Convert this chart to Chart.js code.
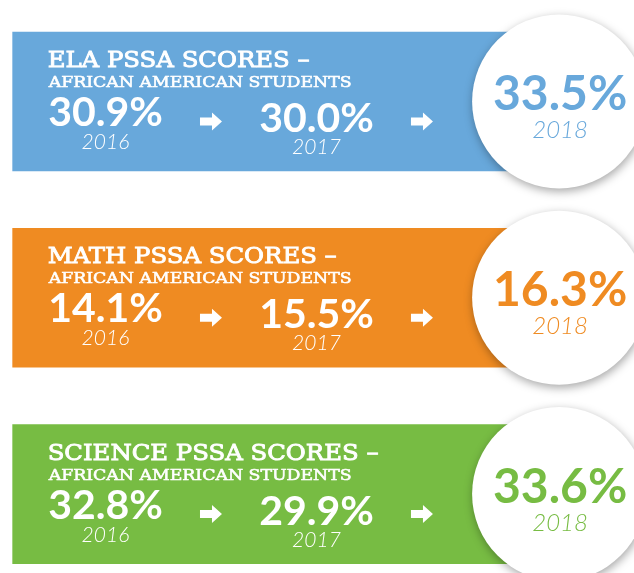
<!DOCTYPE html>
<html>
<head>
<meta charset="utf-8">
<script src="https://cdn.jsdelivr.net/npm/chart.js@4.4.0/dist/chart.umd.min.js"></script>
<style>
html, body { margin: 0; padding: 0; background: #fff; }
</style>
</head>
<body>
<canvas id="pssaChart" width="634" height="573"></canvas>
<script>
const subjects = ['ELA', 'MATH', 'SCIENCE'];
const years = ['2016', '2017', '2018'];
const elaScores = [30.9, 30.0, 33.5];
const mathScores = [14.1, 15.5, 16.3];
const scienceScores = [32.8, 29.9, 33.6];
const group = 'AFRICAN AMERICAN STUDENTS';

const scores = [elaScores, mathScores, scienceScores];
const bandColors = ['#68A8DB', '#EF8B22', '#77BC43'];

// layout, in scale units (x = year step, y = subject row)
const BAND_START = -0.44;
const CIRCLE_X = 2.15;

const TITLE_FONT = '23px "DejaVu Serif"';
const SUB_FONT = '15.5px "DejaVu Serif"';
const NUM_FONT = 'bold 41px Lato';
const YEAR_FONT = 'italic 300 21px Lato';
const BIG_NUM_FONT = 'bold 48px Lato';
const BIG_YEAR_FONT = 'italic 300 24px Lato';

const titleText = s => s + ' PSSA SCORES –';

// horizontal stretch so the slab titles keep the width of the original lettering
function stretchFor(ctx, font, text, targetW) {
  ctx.font = font;
  return targetW / ctx.measureText(text).width;
}

function stretchText(ctx, text, x, y, font, k, weight) {
  ctx.font = font;
  ctx.save();
  ctx.translate(x, y);
  ctx.scale(k, 1);
  ctx.fillText(text, 0, 0);
  ctx.strokeStyle = ctx.fillStyle;
  ctx.lineWidth = weight;
  ctx.strokeText(text, 0, 0);
  ctx.restore();
}

function drawArrow(ctx, cx, cy) {
  ctx.beginPath();
  ctx.moveTo(cx - 11, cy - 4);
  ctx.lineTo(cx + 1, cy - 4);
  ctx.lineTo(cx + 1, cy - 9);
  ctx.lineTo(cx + 11, cy);
  ctx.lineTo(cx + 1, cy + 9);
  ctx.lineTo(cx + 1, cy + 4);
  ctx.lineTo(cx - 11, cy + 4);
  ctx.closePath();
  ctx.fill();
}

const circleShadow = {
  id: 'circleShadow',
  beforeDatasetDraw(chart, args) {
    if (args.index !== 1) return;
    const ctx = chart.ctx;
    ctx.save();
    ctx.shadowColor = 'rgba(0, 0, 0, 0.35)';
    ctx.shadowBlur = 10;
    ctx.shadowOffsetX = 1;
    ctx.shadowOffsetY = 3;
  },
  afterDatasetDraw(chart, args) {
    if (args.index === 1) chart.ctx.restore();
  }
};

const scoreLabels = {
  id: 'scoreLabels',
  afterDatasetsDraw(chart) {
    const { ctx, scales: { x, y } } = chart;
    const left = x.getPixelForValue(BAND_START) + 35;
    const kTitle = stretchFor(ctx, TITLE_FONT, titleText(subjects[0]), 262);
    const kSub = stretchFor(ctx, SUB_FONT, group, 303);
    subjects.forEach((subject, i) => {
      const cy = y.getPixelForValue(i);
      const vals = scores[i];
      ctx.save();
      ctx.fillStyle = '#fff';
      ctx.textAlign = 'left';
      ctx.textBaseline = 'alphabetic';
      stretchText(ctx, titleText(subject), left, cy - 34.5, TITLE_FONT, kTitle, 0.9);
      stretchText(ctx, group, left + 1, cy - 14.5, SUB_FONT, kSub, 0.6);

      ctx.textAlign = 'center';
      // 2016 and 2017 inside the band, 2017 sits a little lower
      [0, 1].forEach(j => {
        const px = x.getPixelForValue(j);
        ctx.font = NUM_FONT;
        ctx.fillText(vals[j].toFixed(1) + '%', px, cy + 24.5 + j * 6);
        ctx.font = YEAR_FONT;
        ctx.fillText(years[j], px, cy + 47.5 + j * 5);
        drawArrow(ctx, x.getPixelForValue(j + 0.5), cy + 20);
      });

      // 2018 in the circle
      const cx = x.getPixelForValue(CIRCLE_X);
      ctx.fillStyle = bandColors[i];
      ctx.font = BIG_NUM_FONT;
      ctx.fillText(vals[2].toFixed(1) + '%', cx + 1, cy + 8.5);
      ctx.font = BIG_YEAR_FONT;
      ctx.fillText(years[2], cx + 1, cy + 36.5);
      ctx.restore();
    });
  }
};

new Chart(document.getElementById('pssaChart'), {
  data: {
    datasets: [{
      type: 'bar',
      indexAxis: 'y',
      data: subjects.map((s, i) => ({ x: [BAND_START, CIRCLE_X], y: i })),
      backgroundColor: bandColors,
      barThickness: 139,
      order: 2
    }, {
      type: 'scatter',
      data: subjects.map((s, i) => ({ x: CIRCLE_X, y: i })),
      pointRadius: 87,
      pointBackgroundColor: '#fff',
      pointBorderWidth: 0,
      clip: false,
      order: 1
    }]
  },
  options: {
    responsive: false,
    animation: false,
    events: [],
    devicePixelRatio: 1,
    layout: { padding: 0, autoPadding: false },
    plugins: { legend: { display: false }, tooltip: { enabled: false } },
    scales: {
      x: { type: 'linear', min: -0.5, max: 2.505, offset: false, display: false },
      y: { type: 'linear', min: -0.517, max: 2.402, reverse: true, offset: false, display: false }
    }
  },
  plugins: [circleShadow, scoreLabels]
});
</script>
</body>
</html>
